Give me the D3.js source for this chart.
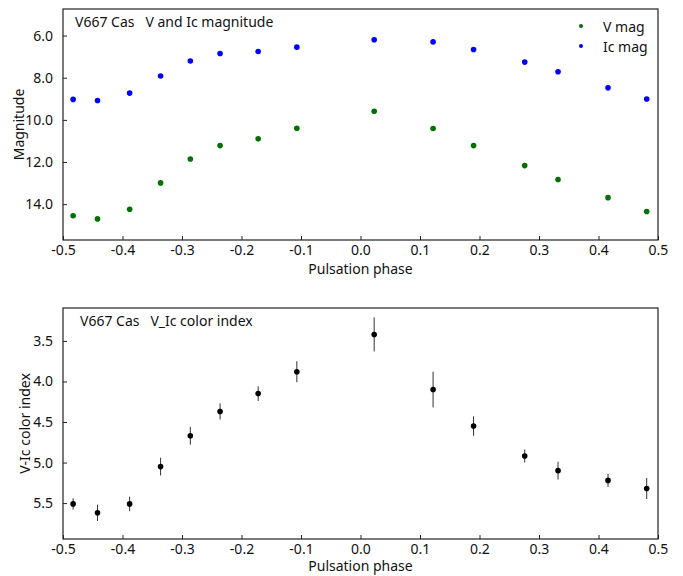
<!DOCTYPE html>
<html>
<head>
<meta charset="utf-8">
<script src="https://cdn.jsdelivr.net/npm/d3@7"></script>
<style>
  body { margin: 0; background: #fff; }
  text { font-family: "Noto Sans", "DejaVu Sans", sans-serif; fill: #111; }
</style>
</head>
<body>
<div id="chart"></div>
<script>
var phase = [-0.483, -0.442, -0.388, -0.336, -0.286, -0.236, -0.172, -0.107,
             0.023, 0.122, 0.190, 0.276, 0.332, 0.416, 0.481];
var vMag  = [14.55, 14.70, 14.24, 12.99, 11.86, 11.22, 10.90, 10.40,
             9.59, 10.41, 11.22, 12.17, 12.83, 13.69, 14.35];
var icMag = [9.03, 9.08, 8.73, 7.92, 7.21, 6.85, 6.76, 6.55,
             6.20, 6.30, 6.66, 7.26, 7.72, 8.48, 9.01];
var icErr = [0.03, 0.03, 0.03, 0.03, 0.03, 0.03, 0.03, 0.03,
             0.12, 0.10, 0.03, 0.03, 0.03, 0.03, 0.03];
var colorIdx = [5.51, 5.62, 5.51, 5.05, 4.67, 4.37, 4.15, 3.88,
                3.42, 4.10, 4.55, 4.92, 5.10, 5.22, 5.32];
var colorErr = [0.07, 0.10, 0.09, 0.11, 0.11, 0.10, 0.09, 0.13,
                0.21, 0.22, 0.12, 0.08, 0.11, 0.08, 0.13];
var xTicks = [-0.5, -0.4, -0.3, -0.2, -0.1, 0.0, 0.1, 0.2, 0.3, 0.4, 0.5];
var magTicks = [6, 8, 10, 12, 14];
var colorTicks = [3.5, 4.0, 4.5, 5.0, 5.5];

var width = 683, height = 576;
var svg = d3.select("#chart").append("svg")
    .attr("width", width)
    .attr("height", height);

function panel(top, bottom, yDomain, yTicks, yLabel, title, yLabelX, titleX, xLabelOff) {
    var left = 63, right = 658;
    var x = d3.scaleLinear().domain([-0.5, 0.5]).range([left, right]);
    var y = d3.scaleLinear().domain(yDomain).range([top, bottom]);

    var g = svg.append("g");

    var xAxis = d3.axisBottom(x).tickValues(xTicks).tickSizeInner(-4).tickSizeOuter(0)
        .tickPadding(5).tickFormat(d3.format(".1f"));
    var gx = g.append("g").attr("transform", "translate(0," + bottom + ")").call(xAxis);
    gx.select(".domain").remove();
    gx.selectAll("text").attr("font-size", 14)
        .text(d => d3.format(".1f")(d).replace("\u2212", "-"));

    var yAxis = d3.axisLeft(y).tickValues(yTicks).tickSizeInner(-4).tickSizeOuter(0)
        .tickPadding(10).tickFormat(d3.format(".1f"));
    var gy = g.append("g").attr("transform", "translate(" + left + ",0)").call(yAxis);
    gy.select(".domain").remove();
    gy.selectAll("text").attr("font-size", 14);
    g.selectAll(".tick line").attr("stroke", "#222");

    g.append("rect")
        .attr("x", left).attr("y", top)
        .attr("width", right - left).attr("height", bottom - top)
        .attr("fill", "none").attr("stroke", "#222").attr("stroke-width", 1.2);

    g.append("text")
        .attr("x", (left + right) / 2).attr("y", bottom + xLabelOff)
        .attr("text-anchor", "middle").attr("font-size", 14)
        .text("Pulsation phase");

    g.append("text")
        .attr("transform", "translate(" + yLabelX + "," + ((top + bottom) / 2) + ") rotate(-90)")
        .attr("text-anchor", "middle").attr("font-size", 14)
        .text(yLabel);

    g.append("text")
        .attr("x", titleX).attr("y", top + 18)
        .attr("font-size", 14).attr("xml:space", "preserve")
        .text(title);

    return { g: g, x: x, y: y };
}

// top panel: magnitudes
var p1 = panel(9, 240, [4.74, 15.7], magTicks, "Magnitude", "V667 Cas   V and Ic magnitude", 24, 75, 34);

var vData = phase.map((p, i) => ({ p: p, v: vMag[i] }));
var icData = phase.map((p, i) => ({ p: p, v: icMag[i], e: icErr[i] }));

p1.g.selectAll(".icerr").data(icData).enter().append("line")
    .attr("x1", d => p1.x(d.p)).attr("x2", d => p1.x(d.p))
    .attr("y1", d => p1.y(d.v - d.e)).attr("y2", d => p1.y(d.v + d.e))
    .attr("stroke", "#0000ff").attr("stroke-width", 1);

p1.g.selectAll(".vpt").data(vData).enter().append("circle")
    .attr("cx", d => p1.x(d.p)).attr("cy", d => p1.y(d.v))
    .attr("r", 2.8).attr("fill", "#007000");

p1.g.selectAll(".icpt").data(icData).enter().append("circle")
    .attr("cx", d => p1.x(d.p)).attr("cy", d => p1.y(d.v))
    .attr("r", 2.8).attr("fill", "#0000ff");

// legend
var legend = [{ name: "V mag", color: "#007000", y: 26 }, { name: "Ic mag", color: "#0000ff", y: 46 }];
var lg = p1.g.selectAll(".leg").data(legend).enter().append("g");
lg.append("circle").attr("cx", 581).attr("cy", d => d.y).attr("r", 2).attr("fill", d => d.color);
lg.append("text").attr("x", 603).attr("y", d => d.y + 6).attr("font-size", 14).text(d => d.name);

// bottom panel: colour index
var p2 = panel(308, 539, [3.094, 5.943], colorTicks, "V-Ic color index", "V667 Cas   V_Ic color index", 30, 80, 32);

var cData = phase.map((p, i) => ({ p: p, v: colorIdx[i], e: colorErr[i] }));

p2.g.selectAll(".cerr").data(cData).enter().append("line")
    .attr("x1", d => p2.x(d.p)).attr("x2", d => p2.x(d.p))
    .attr("y1", d => p2.y(d.v - d.e)).attr("y2", d => p2.y(d.v + d.e))
    .attr("stroke", "#333").attr("stroke-width", 1);

p2.g.selectAll(".cpt").data(cData).enter().append("circle")
    .attr("cx", d => p2.x(d.p)).attr("cy", d => p2.y(d.v))
    .attr("r", 2.8).attr("fill", "#000");
</script>
</body>
</html>
